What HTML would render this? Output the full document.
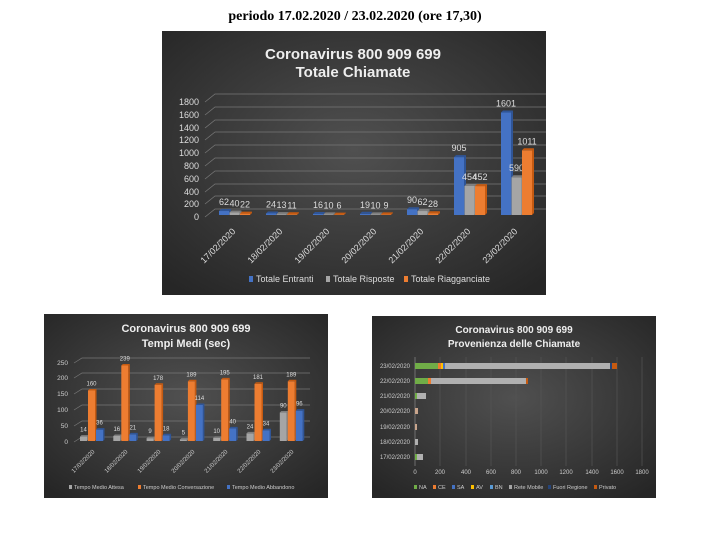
<!DOCTYPE html>
<html><head><style>
body{margin:0;background:#fff;width:710px;height:536px;overflow:hidden;font-family:"Liberation Sans",sans-serif}
svg text{font-family:"Liberation Sans",sans-serif}
</style></head><body>
<svg width="710" height="536" xmlns="http://www.w3.org/2000/svg">
<defs>
<radialGradient id="bg" cx="50%" cy="45%" r="70%"><stop offset="0" stop-color="#505050"/><stop offset="1" stop-color="#262626"/></radialGradient>
</defs>
<text x="355" y="20" font-family="Liberation Serif" font-weight="bold" font-size="14" text-anchor="middle" fill="#000" style="font-family:'Liberation Serif',serif">periodo 17.02.2020 / 23.02.2020 (ore 17,30)</text>

<!-- main chart -->
<rect x="162" y="31" width="384" height="264" fill="url(#bg)"/>
<text x="353" y="59" fill="#eee" font-size="15" font-weight="bold" text-anchor="middle">Coronavirus 800 909 699</text>
<text x="353" y="77" fill="#eee" font-size="15" font-weight="bold" text-anchor="middle">Totale Chiamate</text>
<g stroke="#777" stroke-width="0.8" fill="none">
<path d="M205,217 L215,209 L546,209"/><path d="M205,204 L215,196 L546,196"/><path d="M205,192 L215,184 L546,184"/><path d="M205,179 L215,171 L546,171"/><path d="M205,166 L215,158 L546,158"/><path d="M205,153 L215,145 L546,145"/><path d="M205,140 L215,132 L546,132"/><path d="M205,128 L215,120 L546,120"/><path d="M205,115 L215,107 L546,107"/><path d="M205,102 L215,94 L546,94"/>
</g>
<g fill="#ddd" font-size="9" text-anchor="end">
<text x="199" y="220">0</text><text x="199" y="207">200</text><text x="199" y="195">400</text><text x="199" y="182">600</text><text x="199" y="169">800</text><text x="199" y="156">1000</text><text x="199" y="143">1200</text><text x="199" y="131">1400</text><text x="199" y="118">1600</text><text x="199" y="105">1800</text>
</g>
<g id="bars"></g>
<g font-size="9" fill="#ddd" text-anchor="end">
<text transform="translate(236,232) rotate(-45)">17/02/2020</text>
<text transform="translate(283,232) rotate(-45)">18/02/2020</text>
<text transform="translate(330,232) rotate(-45)">19/02/2020</text>
<text transform="translate(377,232) rotate(-45)">20/02/2020</text>
<text transform="translate(424,232) rotate(-45)">21/02/2020</text>
<text transform="translate(471,232) rotate(-45)">22/02/2020</text>
<text transform="translate(518,232) rotate(-45)">23/02/2020</text>
</g>
<g font-size="9" fill="#ddd">
<rect x="249" y="276" width="4" height="6" fill="#4472c4"/><text x="256" y="282">Totale Entranti</text>
<rect x="326" y="276" width="4" height="6" fill="#a5a5a5"/><text x="333" y="282">Totale Risposte</text>
<rect x="404" y="276" width="4" height="6" fill="#ed7d31"/><text x="411" y="282">Totale Riagganciate</text>
</g>

<!-- bottom left -->
<rect x="44" y="314" width="284" height="184" fill="url(#bg)"/>
<text x="186" y="332" fill="#eee" font-size="11" font-weight="bold" text-anchor="middle">Coronavirus 800 909 699</text>
<text x="186" y="347" fill="#eee" font-size="11" font-weight="bold" text-anchor="middle">Tempi Medi (sec)</text>
<g stroke="#777" stroke-width="0.7" fill="none">
<path d="M74,442 L82,437 L310,437"/><path d="M74,426 L82,421 L310,421"/><path d="M74,410 L82,405 L310,405"/><path d="M74,394 L82,389 L310,389"/><path d="M74,378 L82,373 L310,373"/><path d="M74,363 L82,358 L310,358"/>
</g>
<g fill="#ccc" font-size="6.5" text-anchor="end">
<text x="68" y="444">0</text><text x="68" y="428">50</text><text x="68" y="412">100</text><text x="68" y="396">150</text><text x="68" y="380">200</text><text x="68" y="365">250</text>
</g>
<g id="bars2"></g>
<g font-size="6" fill="#ccc" text-anchor="end">
<text transform="translate(95,452) rotate(-45)">17/02/2020</text>
<text transform="translate(128,452) rotate(-45)">18/02/2020</text>
<text transform="translate(161,452) rotate(-45)">19/02/2020</text>
<text transform="translate(195,452) rotate(-45)">20/02/2020</text>
<text transform="translate(228,452) rotate(-45)">21/02/2020</text>
<text transform="translate(261,452) rotate(-45)">22/02/2020</text>
<text transform="translate(294,452) rotate(-45)">23/02/2020</text>
</g>
<g font-size="5.5" fill="#ccc">
<rect x="69" y="485" width="3" height="4" fill="#a5a5a5"/><text x="74" y="489">Tempo Medio Attesa</text>
<rect x="138" y="485" width="3" height="4" fill="#ed7d31"/><text x="143" y="489">Tempo Medio Conversazione</text>
<rect x="227" y="485" width="3" height="4" fill="#4472c4"/><text x="232" y="489">Tempo Medio Abbandono</text>
</g>

<!-- bottom right -->
<rect x="372" y="316" width="284" height="182" fill="url(#bg)"/>
<text x="514" y="333" fill="#eee" font-size="10" font-weight="bold" text-anchor="middle">Coronavirus 800 909 699</text>
<text x="514" y="347" fill="#eee" font-size="10" font-weight="bold" text-anchor="middle">Provenienza delle Chiamate</text>
<g stroke="#555" stroke-width="0.7">
<line x1="415" y1="357" x2="415" y2="466" stroke="#888"/>
<line x1="440" y1="357" x2="440" y2="466"/><line x1="466" y1="357" x2="466" y2="466"/><line x1="491" y1="357" x2="491" y2="466"/><line x1="516" y1="357" x2="516" y2="466"/><line x1="541" y1="357" x2="541" y2="466"/><line x1="566" y1="357" x2="566" y2="466"/><line x1="592" y1="357" x2="592" y2="466"/><line x1="617" y1="357" x2="617" y2="466"/><line x1="642" y1="357" x2="642" y2="466"/>
</g>
<g fill="#ccc" font-size="6" text-anchor="middle">
<text x="415" y="474">0</text><text x="440" y="474">200</text><text x="466" y="474">400</text><text x="491" y="474">600</text><text x="516" y="474">800</text><text x="541" y="474">1000</text><text x="566" y="474">1200</text><text x="592" y="474">1400</text><text x="617" y="474">1600</text><text x="642" y="474">1800</text>
</g>
<g fill="#ccc" font-size="6" text-anchor="end">
<text x="410" y="368">23/02/2020</text><text x="410" y="383">22/02/2020</text><text x="410" y="398">21/02/2020</text><text x="410" y="413">20/02/2020</text><text x="410" y="429">19/02/2020</text><text x="410" y="444">18/02/2020</text><text x="410" y="459">17/02/2020</text>
</g>
<g>
<rect x="415" y="363" width="23" height="6" fill="#70ad47"/><rect x="438" y="363" width="3" height="6" fill="#ed7d31"/><rect x="441" y="363" width="2" height="6" fill="#ffc000"/><rect x="443" y="363" width="2" height="6" fill="#4472c4"/><rect x="445" y="363" width="165" height="6" fill="#b0b0b0"/><rect x="610" y="363" width="2" height="6" fill="#264478"/><rect x="612" y="363" width="5" height="6" fill="#c55a11"/>
<rect x="415" y="378" width="13" height="6" fill="#70ad47"/><rect x="428" y="378" width="3" height="6" fill="#ed7d31"/><rect x="431" y="378" width="95" height="6" fill="#b0b0b0"/><rect x="526" y="378" width="2" height="6" fill="#c55a11"/>
<rect x="415" y="393" width="2" height="6" fill="#70ad47"/><rect x="417" y="393" width="9" height="6" fill="#b0b0b0"/>
<rect x="415" y="408" width="3" height="6" fill="#c9a58c"/>
<rect x="415" y="424" width="2" height="6" fill="#c9a58c"/>
<rect x="415" y="439" width="3" height="6" fill="#b0b0b0"/>
<rect x="415" y="454" width="2" height="6" fill="#70ad47"/><rect x="417" y="454" width="6" height="6" fill="#b0b0b0"/>
</g>
<g font-size="5.5" fill="#ccc">
<rect x="414" y="485" width="3" height="4" fill="#70ad47"/><text x="419" y="489">NA</text>
<rect x="433" y="485" width="3" height="4" fill="#ed7d31"/><text x="438" y="489">CE</text>
<rect x="452" y="485" width="3" height="4" fill="#4472c4"/><text x="457" y="489">SA</text>
<rect x="471" y="485" width="3" height="4" fill="#ffc000"/><text x="476" y="489">AV</text>
<rect x="490" y="485" width="3" height="4" fill="#5b9bd5"/><text x="495" y="489">BN</text>
<rect x="509" y="485" width="3" height="4" fill="#a5a5a5"/><text x="514" y="489">Rete Mobile</text>
<rect x="548" y="485" width="3" height="4" fill="#264478"/><text x="553" y="489">Fuori Regione</text>
<rect x="594" y="485" width="3" height="4" fill="#c55a11"/><text x="599" y="489">Privato</text>
</g>
</svg>
<script>
function bar(g,x,y0,w,h,c,dk,d){
  var s='<rect x="'+x+'" y="'+(y0-h)+'" width="'+w+'" height="'+h+'" fill="'+c+'"/>'+
  '<polygon points="'+(x+w)+','+(y0-h)+' '+(x+w+d)+','+(y0-h-d)+' '+(x+w+d)+','+(y0-d)+' '+(x+w)+','+y0+'" fill="'+dk+'"/>'+
  '<polygon points="'+x+','+(y0-h)+' '+(x+d)+','+(y0-h-d)+' '+(x+w+d)+','+(y0-h-d)+' '+(x+w)+','+(y0-h)+'" fill="'+dk+'"/>';
  return s;
}
function lbl(x,y,t,fs){return '<text x="'+x+'" y="'+y+'" fill="#ddd" font-size="'+fs+'" text-anchor="middle">'+t+'</text>';}
var d1=[[62,40,22],[24,13,11],[16,10,6],[19,10,9],[90,62,28],[905,454,452],[1601,590,1011]];
var cs=['#4472c4','#a5a5a5','#ed7d31'],dk=['#2f5597','#7f7f7f','#c55a11'];
var s='';
d1.forEach(function(v,i){var cx=234+i*47;v.forEach(function(n,j){var x=cx-15+j*10.5,h=n*12.8/200;s+=bar(0,x,215,10,h,cs[j],dk[j],2);s+=lbl(x+5,215-h-6,n,9);});});
document.getElementById('bars').innerHTML=s;
var d2=[[14,160,36],[16,239,21],[9,178,18],[5,189,114],[10,195,40],[24,181,34],[90,189,96]];
var c2=['#a5a5a5','#ed7d31','#4472c4'],k2=['#7f7f7f','#c55a11','#2f5597'];
s='';
d2.forEach(function(v,i){var cx=92+i*33.3;v.forEach(function(n,j){var x=cx-12+j*8,h=n*79/250;s+=bar(0,x,441,7,h,c2[j],k2[j],1.5);s+=lbl(x+3.5,441-h-5,n,6);});});
document.getElementById('bars2').innerHTML=s;
</script>
</body></html>
